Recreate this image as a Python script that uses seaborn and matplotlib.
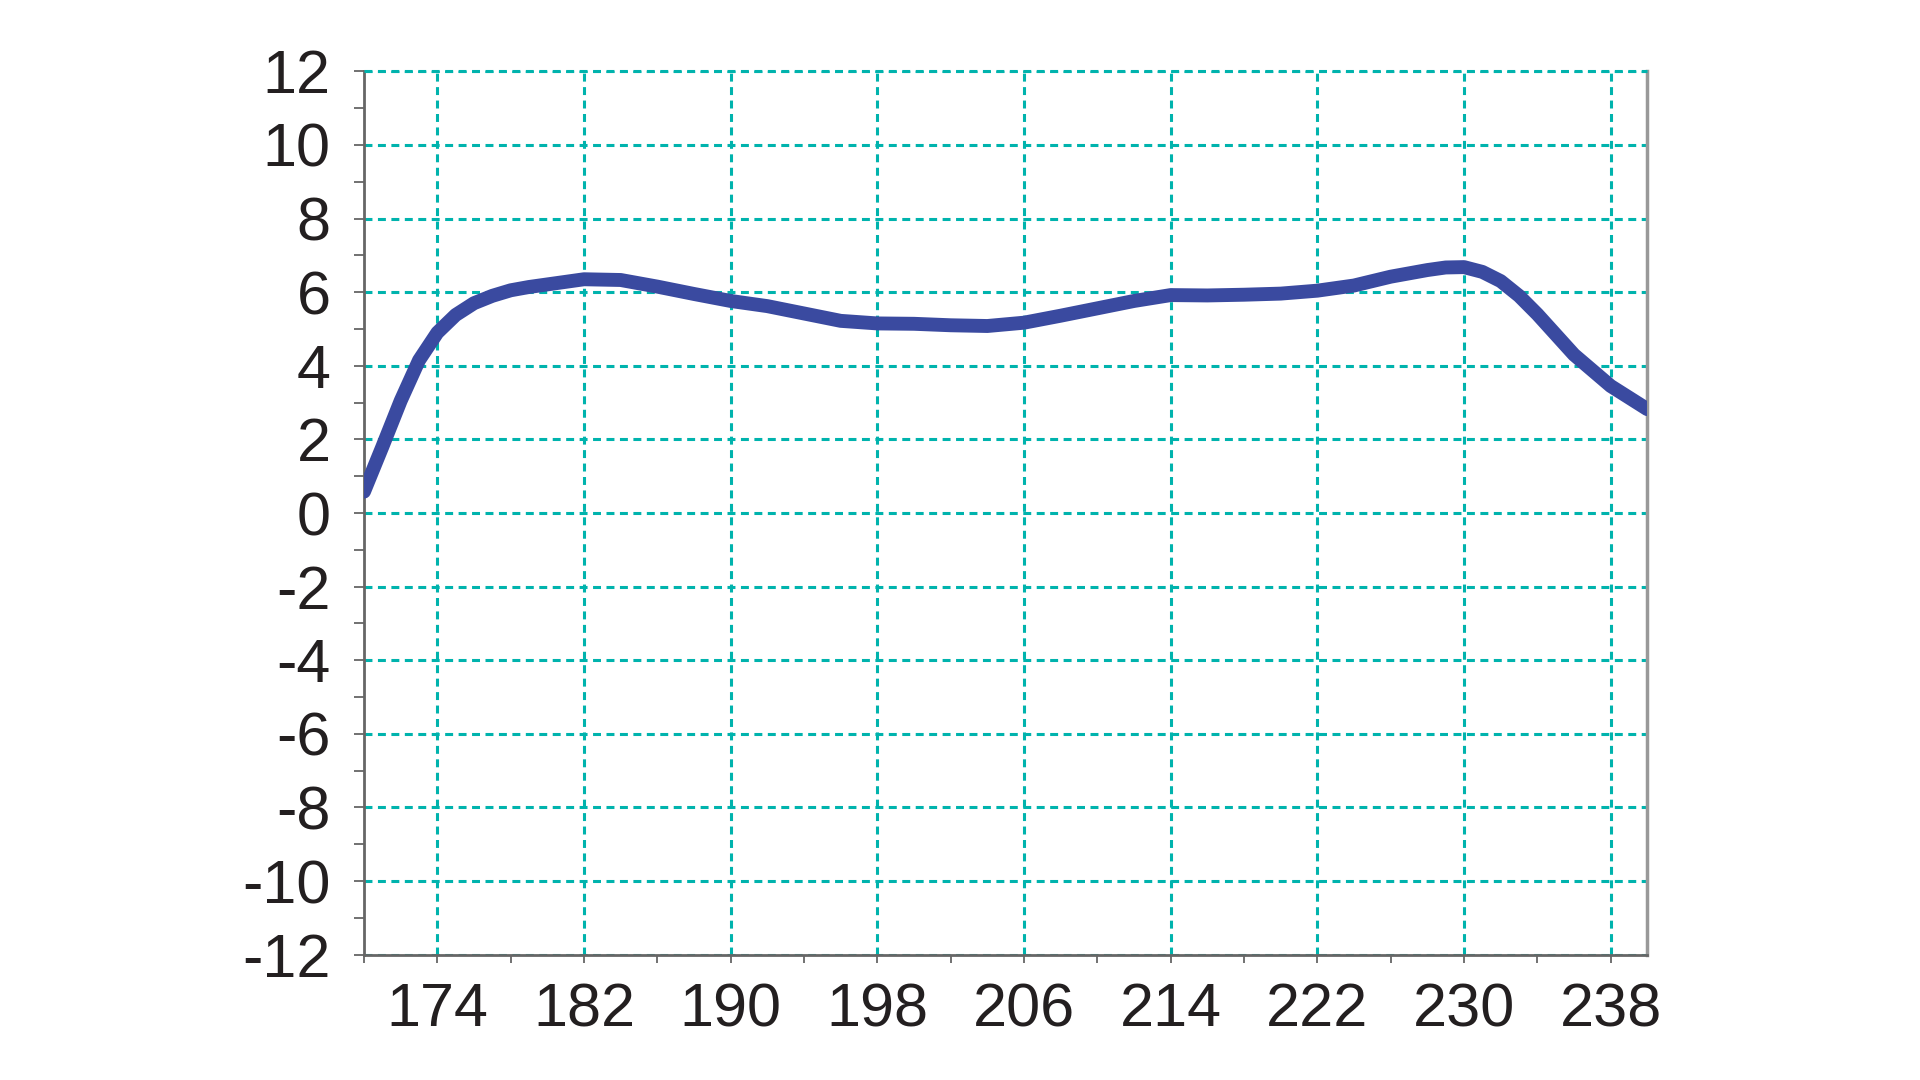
import matplotlib
matplotlib.use("Agg")
import matplotlib.pyplot as plt
import seaborn as sns
import pandas as pd
from matplotlib.ticker import MultipleLocator, FixedLocator

# values
x_vals = [170, 171, 172, 173, 174, 175, 176, 177, 178, 179, 180, 181, 182, 184, 186, 188, 190,
          192, 194, 196, 198, 200, 202, 204, 206, 208, 210, 212, 214, 216, 218,
          220, 222, 224, 226, 228, 229, 230, 231, 232, 233, 234, 236, 238, 240]
y_vals = [0.58, 1.8, 3.05, 4.15, 4.9, 5.38, 5.7, 5.9, 6.05, 6.14, 6.21, 6.28, 6.35, 6.33, 6.15, 5.95, 5.76,
          5.62, 5.42, 5.22, 5.15, 5.14, 5.10, 5.08, 5.17, 5.36, 5.56, 5.76, 5.92, 5.91, 5.93,
          5.96, 6.04, 6.18, 6.42, 6.6, 6.67, 6.68, 6.55, 6.3, 5.9, 5.4, 4.3, 3.45, 2.82]

x_major = [174, 182, 190, 198, 206, 214, 222, 230, 238]
x_minor = [170, 178, 186, 194, 202, 210, 218, 226, 234]

df = pd.DataFrame({"x": x_vals, "y": y_vals})

sns.set_style("white")
plt.rcParams["font.family"] = ["Liberation Sans", "DejaVu Sans"]
plt.rcParams["axes.unicode_minus"] = False

fig = plt.figure(figsize=(19.2, 10.8), dpi=100)
ax = fig.add_axes([0.1896, 0.116, 0.858 - 0.1896, 0.934 - 0.116])

sns.lineplot(data=df, x="x", y="y", ax=ax, color="#3A4AA0", linewidth=10,
             solid_capstyle="round", solid_joinstyle="round", zorder=5)

ax.set_xlim(170, 240)
ax.set_ylim(-12, 12)
ax.xaxis.set_major_locator(FixedLocator(x_major))
ax.xaxis.set_minor_locator(FixedLocator(x_minor))
ax.yaxis.set_major_locator(MultipleLocator(2))
ax.yaxis.set_minor_locator(MultipleLocator(1))

grid_kw = dict(color="#00B3AD", linewidth=2.2, linestyle=(0, (2.6, 1.8)))
ax.grid(True, which="major", **grid_kw)
ax.axhline(12, zorder=4, clip_on=False, **grid_kw)

ax.spines["top"].set_visible(False)
for side in ["left", "bottom"]:
    ax.spines[side].set_color("#666666")
    ax.spines[side].set_linewidth(2)
ax.spines["right"].set_color("#999999")
ax.spines["right"].set_linewidth(2.5)

ax.tick_params(axis="y", which="both", direction="out", length=7, width=1.3,
               color="#666666", left=True, labelsize=44, pad=17, labelcolor="#231F20")
ax.tick_params(axis="x", which="both", direction="out", length=6, width=1.3,
               color="#666666", bottom=True, labelsize=44, pad=14, labelcolor="#231F20")

ax.set_xlabel("")
ax.set_ylabel("")

fig.savefig("out.png", dpi=100, facecolor="white")
